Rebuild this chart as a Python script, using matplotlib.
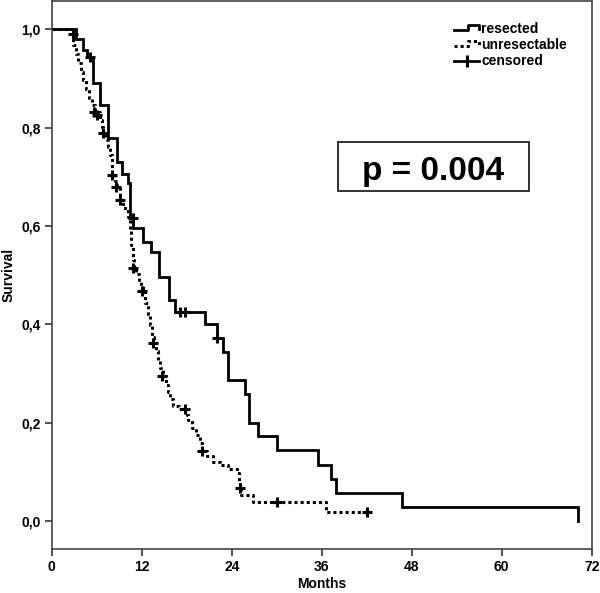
import matplotlib
matplotlib.use('Agg')
import matplotlib.pyplot as plt
from matplotlib.lines import Line2D
from matplotlib.patches import Rectangle
from matplotlib.legend_handler import HandlerLine2D

plt.rcParams['font.family'] = ['Liberation Sans', 'DejaVu Sans']
plt.rcParams['font.weight'] = 'bold'

# --- Kaplan-Meier steps ----------------------------------------------------
# resected (solid)
resected_t = [0, 3.2, 4.2, 4.7, 5.5, 6.4, 7.5, 8.7, 9.4, 10.2, 10.5, 10.9,
              12.2, 13.3, 14.3, 15.6, 16.4, 20.4, 22.0, 22.9, 23.5, 25.8,
              26.3, 27.5, 30.1, 35.5, 37.3, 37.9, 46.7, 70.2]
resected_s = [1.0, 0.980, 0.958, 0.945, 0.892, 0.846, 0.779, 0.731, 0.707,
              0.687, 0.617, 0.596, 0.568, 0.547, 0.497, 0.450, 0.426, 0.400,
              0.372, 0.344, 0.287, 0.258, 0.200, 0.173, 0.144, 0.114, 0.085,
              0.057, 0.028, 0.0]
resected_cens_t = [5.1, 10.8, 17.1, 17.8, 22.1]
resected_cens_s = [0.945, 0.617, 0.426, 0.426, 0.372]

# unresectable (dotted)
unres_t = [0, 2.7, 2.9, 3.2, 3.5, 3.9, 4.2, 4.6, 5.0, 5.4, 5.8, 6.4, 6.7,
           6.9, 7.2, 7.5, 7.8, 8.0, 8.1, 8.4, 8.7, 9.1, 9.5, 9.8, 10.2,
           10.4, 10.6, 10.9, 11.0, 11.3, 11.6, 11.9, 12.2, 12.5, 12.8, 13.1,
           13.4, 13.6, 13.9, 14.2, 14.5, 14.8, 15.2, 15.5, 15.8, 16.2, 17.0,
           18.0, 18.2, 18.7, 19.2, 19.8, 20.0, 20.7, 21.5, 22.5, 23.5, 24.7,
           25.0, 25.1, 25.3, 26.9, 36.6, 42.0]
unres_s = [1.0, 0.990, 0.969, 0.950, 0.931, 0.914, 0.897, 0.878, 0.860,
           0.846, 0.833, 0.816, 0.802, 0.789, 0.775, 0.760, 0.744, 0.728,
           0.704, 0.692, 0.680, 0.654, 0.641, 0.630, 0.619, 0.590, 0.561,
           0.531, 0.515, 0.503, 0.491, 0.479, 0.467, 0.444, 0.421, 0.398,
           0.375, 0.363, 0.346, 0.328, 0.311, 0.294, 0.276, 0.262, 0.248,
           0.233, 0.227, 0.216, 0.205, 0.190, 0.174, 0.158, 0.143, 0.132,
           0.121, 0.113, 0.105, 0.097, 0.082, 0.067, 0.052, 0.039, 0.019,
           0.019]
unres_cens_t = [2.8, 5.7, 6.0, 6.9, 8.1, 8.6, 9.1, 10.9, 12.1, 13.5, 14.7,
                17.8, 20.0, 25.1, 30.0, 42.0]
unres_cens_s = [0.99, 0.833, 0.826, 0.789, 0.704, 0.680, 0.654, 0.515,
                0.467, 0.363, 0.294, 0.227, 0.143, 0.067, 0.039, 0.019]

x_ticks = [0, 12, 24, 36, 48, 60, 72]
y_ticks = [0.0, 0.2, 0.4, 0.6, 0.8, 1.0]
y_ticklabels = ['0,0', '0,2', '0,4', '0,6', '0,8', '1,0']
legend_labels = ['resected', 'unresectable', 'censored']
p_text = 'p = 0.004'


class StepHandler(HandlerLine2D):
    # legend handle drawn as a little step (like the SPSS legend)
    def create_artists(self, legend, orig_handle, xdescent, ydescent,
                       width, height, fontsize, trans):
        x0, x1 = -xdescent, -xdescent + width
        ylo = -ydescent + height * 0.3
        yhi = -ydescent + height * 0.85
        xm = x0 + width * 0.55
        line = Line2D([x0, xm, xm, x1, x1], [ylo, ylo, yhi, yhi, ylo + 0.1 * height])
        self.update_prop(line, orig_handle, legend)
        line.set_transform(trans)
        return [line]


fig = plt.figure(figsize=(6, 5.93), dpi=100)
ax = fig.add_axes([0.0862, 0.0742, 0.9, 0.9233])

ax.step(resected_t, resected_s, where='post', color='black', lw=2.0,
        solid_joinstyle='miter')
ax.step(unres_t, unres_s, where='post', color='black', lw=2.2,
        linestyle=(0, (1, 1)))
ax.plot(resected_cens_t, resected_cens_s, ls='none', marker='+',
        color='black', ms=7, mew=2.2)
ax.plot(unres_cens_t, unres_cens_s, ls='none', marker='+',
        color='black', ms=7, mew=2.2)

ax.set_xlim(0, 72)
ax.set_ylim(-0.057, 1.057)
ax.set_xticks(x_ticks)
ax.set_xticklabels([str(v) for v in x_ticks])
ax.set_yticks(y_ticks)
ax.set_yticklabels(y_ticklabels)
ax.tick_params(direction='out', length=5, width=1.2, labelsize=10,
               color='#333333', pad=3)
for s in ax.spines.values():
    s.set_color('#444444')
    s.set_linewidth(1.2)

ax.set_xlabel('Months', fontsize=10, fontweight='bold', labelpad=2)
ax.set_ylabel('Survival', fontsize=10, fontweight='bold', labelpad=4)

# p-value box
ax.add_patch(Rectangle((0.530, 0.654), 0.354, 0.089, transform=ax.transAxes,
                       fc='white', ec='#222222', lw=1.3, zorder=3))
ax.text(0.707, 0.674, p_text, transform=ax.transAxes, ha='center',
        va='baseline', fontsize=24, fontweight='bold', zorder=4)

h_res = Line2D([0], [0], color='black', lw=2.0)
h_unres = Line2D([0], [0], color='black', lw=2.2, linestyle=(0, (1, 1)))
h_cens = Line2D([0], [0], color='black', lw=2.0, marker='|', ms=9, mew=2.2)
ax.legend([h_res, h_unres, h_cens], legend_labels,
          handler_map={h_res: StepHandler(), h_unres: StepHandler()},
          loc='upper left', bbox_to_anchor=(0.745, 0.962), frameon=False,
          fontsize=10, handlelength=1.8, handletextpad=0.15,
          labelspacing=0.15, borderpad=0, borderaxespad=0)

fig.savefig('out.png', dpi=100)
